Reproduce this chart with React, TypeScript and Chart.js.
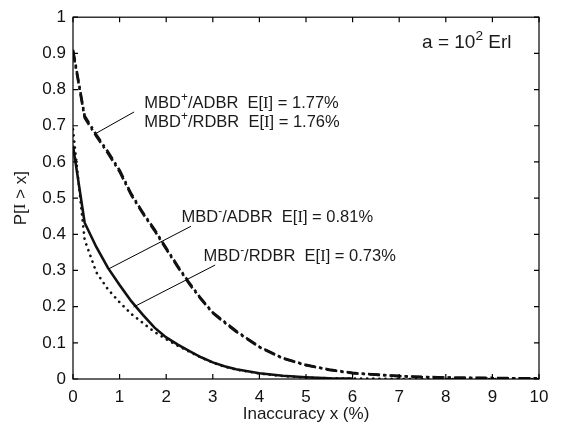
import React, { useEffect, useRef } from 'react';
import { Chart, registerables } from 'chart.js';
Chart.register(...registerables);

const xValues = [0, 0.25, 0.5, 0.75, 1, 1.25, 1.5, 1.75, 2, 2.25, 2.5, 2.75, 3, 3.25, 3.5, 4, 4.5, 5, 5.5, 6, 6.5, 7, 7.5, 8, 8.5, 9, 9.5, 10];
const plusAdbr = [0.91, 0.727, 0.675, 0.628, 0.577, 0.512, 0.46, 0.413, 0.362, 0.312, 0.265, 0.222, 0.184, 0.158, 0.133, 0.089, 0.058, 0.039, 0.026, 0.017, 0.012, 0.008, 0.006, 0.004, 0.003, 0.003, 0.002, 0.002];
const plusRdbr = [0.905, 0.722, 0.671, 0.624, 0.573, 0.508, 0.457, 0.41, 0.359, 0.309, 0.262, 0.22, 0.182, 0.156, 0.131, 0.088, 0.057, 0.038, 0.025, 0.016, 0.012, 0.008, 0.005, 0.004, 0.003, 0.002, 0.002, 0.002];
const minusAdbr = [0.645, 0.432, 0.365, 0.307, 0.26, 0.215, 0.177, 0.142, 0.115, 0.095, 0.077, 0.06, 0.046, 0.035, 0.027, 0.016, 0.009, 0.005, 0.002, 0.001, null, null, null, null, null, null, null, null];
const minusRdbr = [0.69, 0.385, 0.295, 0.248, 0.212, 0.18, 0.155, 0.13, 0.11, 0.092, 0.075, 0.059, 0.045, 0.034, 0.026, 0.015, 0.008, 0.004, 0.002, 0.001, 0.001, 0, 0, 0, 0, 0, 0, 0];

const xTicks = [0, 1, 2, 3, 4, 5, 6, 7, 8, 9, 10];
const yTicks = [0, 0.1, 0.2, 0.3, 0.4, 0.5, 0.6, 0.7, 0.8, 0.9, 1];

const SANS = '"Liberation Sans", Arial, Helvetica, sans-serif';
const SERIF = '"Liberation Serif", "Times New Roman", serif';

type Seg = { t: string; sup?: boolean; serif?: boolean };

const plusLabels: Seg[][] = [
  [{ t: 'MBD' }, { t: '+', sup: true }, { t: '/ADBR  E[' }, { t: 'I', serif: true }, { t: '] = 1.77%' }],
  [{ t: 'MBD' }, { t: '+', sup: true }, { t: '/RDBR  E[' }, { t: 'I', serif: true }, { t: '] = 1.76%' }],
];
const minusAdbrLabel: Seg[] = [{ t: 'MBD' }, { t: '-', sup: true }, { t: '/ADBR  E[' }, { t: 'I', serif: true }, { t: '] = 0.81%' }];
const minusRdbrLabel: Seg[] = [{ t: 'MBD' }, { t: '-', sup: true }, { t: '/RDBR  E[' }, { t: 'I', serif: true }, { t: '] = 0.73%' }];
const erlLabel: Seg[] = [{ t: 'a = 10' }, { t: '2', sup: true }, { t: ' Erl' }];
const yTitle: Seg[] = [{ t: 'P[' }, { t: 'I', serif: true }, { t: ' > x]' }];
const xTitle = 'Inaccuracy x (%)';

// annotation anchors in data units: [x, y]
const plusTextAt = [1.53, 0.749];
const minusAdbrTextAt = [2.33, 0.433];
const minusRdbrTextAt = [2.8, 0.326];
const erlTextAt = [7.49, 0.916];
const plusLeader = [[1.31, 0.738], [0.48, 0.678]];
const minusAdbrLeader = [[2.53, 0.422], [0.76, 0.304]];
const minusRdbrLeader = [[3.05, 0.315], [1.3, 0.199]];

function drawRich(ctx: CanvasRenderingContext2D, segs: Seg[], x: number, y: number, size: number, measureOnly = false) {
  let cx = x;
  for (const s of segs) {
    const fsz = s.sup ? size * 0.72 : size;
    ctx.font = `${fsz}px ${s.serif ? SERIF : SANS}`;
    const dy = s.sup ? -size * 0.42 : 0;
    if (!measureOnly) ctx.fillText(s.t, cx, y + dy);
    cx += ctx.measureText(s.t).width;
  }
  return cx - x;
}

const framePlugin = {
  id: 'framePlugin',
  afterDatasetsDraw(chart: any) {
    const { ctx, chartArea: a, scales } = chart;
    const xs = scales.x, ys = scales.y;
    const px = (v: number) => xs.getPixelForValue(v);
    const py = (v: number) => ys.getPixelForValue(v);
    ctx.save();
    ctx.strokeStyle = '#000';
    ctx.lineWidth = 1.2;
    ctx.strokeRect(a.left, a.top, a.right - a.left, a.bottom - a.top);
    ctx.beginPath();
    const tl = 5;
    for (const t of xTicks) {
      const x = px(t);
      ctx.moveTo(x, a.bottom); ctx.lineTo(x, a.bottom - tl);
      ctx.moveTo(x, a.top); ctx.lineTo(x, a.top + tl);
    }
    for (const t of yTicks) {
      const y = py(t);
      ctx.moveTo(a.left, y); ctx.lineTo(a.left + tl, y);
      ctx.moveTo(a.right, y); ctx.lineTo(a.right - tl, y);
    }
    ctx.stroke();

    // leader lines
    ctx.lineWidth = 1;
    ctx.beginPath();
    for (const L of [plusLeader, minusAdbrLeader, minusRdbrLeader]) {
      ctx.moveTo(px(L[0][0]), py(L[0][1]));
      ctx.lineTo(px(L[1][0]), py(L[1][1]));
    }
    ctx.stroke();

    // annotation texts
    ctx.fillStyle = '#1a1a1a';
    ctx.textBaseline = 'alphabetic';
    ctx.textAlign = 'left';
    const fs = 16.5;
    drawRich(ctx, plusLabels[0], px(plusTextAt[0]), py(plusTextAt[1]), fs);
    drawRich(ctx, plusLabels[1], px(plusTextAt[0]), py(plusTextAt[1]) + 19, fs);
    drawRich(ctx, minusAdbrLabel, px(minusAdbrTextAt[0]), py(minusAdbrTextAt[1]), fs);
    drawRich(ctx, minusRdbrLabel, px(minusRdbrTextAt[0]), py(minusRdbrTextAt[1]), fs);
    drawRich(ctx, erlLabel, px(erlTextAt[0]), py(erlTextAt[1]), 19);

    // axis titles
    ctx.font = `17px ${SANS}`;
    ctx.textAlign = 'center';
    ctx.textBaseline = 'middle';
    ctx.fillText(xTitle, (a.left + a.right) / 2, 414);

    ctx.save();
    ctx.translate(21, (a.top + a.bottom) / 2);
    ctx.rotate(-Math.PI / 2);
    ctx.textAlign = 'left';
    const w = drawRich(ctx, yTitle, 0, 0, 17, true);
    drawRich(ctx, yTitle, -w / 2, 0, 17);
    ctx.restore();
    ctx.restore();
  },
};

export default function App() {
  const ref = useRef<HTMLCanvasElement>(null);
  useEffect(() => {
    if (!ref.current) return;
    const pts = (arr: (number | null)[]) => xValues.map((x, i) => ({ x, y: arr[i] }));
    const chart = new Chart(ref.current, {
      type: 'line',
      data: {
        datasets: [
          { label: 'MBD+/RDBR', data: pts(plusRdbr) as any, borderColor: '#111', borderWidth: 2.6, borderDash: [11, 4, 2.5, 4], pointRadius: 0, tension: 0, fill: false },
          { label: 'MBD+/ADBR', data: pts(plusAdbr) as any, borderColor: '#111', borderWidth: 2.6, borderDash: [11, 4, 2.5, 4], pointRadius: 0, tension: 0, fill: false },
          { label: 'MBD-/RDBR', data: pts(minusRdbr) as any, borderColor: '#111', borderWidth: 2.6, borderDash: [0.1, 6], borderCapStyle: 'round', pointRadius: 0, tension: 0, fill: false },
          { label: 'MBD-/ADBR', data: pts(minusAdbr) as any, borderColor: '#111', borderWidth: 2.6, pointRadius: 0, tension: 0, fill: false, spanGaps: false },
        ],
      },
      options: {
        responsive: false,
        animation: false,
        layout: { padding: { left: 0, right: 28, top: 12, bottom: 0 } },
        plugins: { legend: { display: false }, tooltip: { enabled: false } },
        scales: {
          x: {
            type: 'linear', min: 0, max: 10,
            afterFit: (s: any) => { s.height = 51; },
            afterBuildTicks: (s: any) => { s.ticks = xTicks.map((v) => ({ value: v })); },
            grid: { display: false, drawTicks: false },
            border: { display: false },
            ticks: { color: '#111', font: { size: 17, family: SANS }, padding: 8, maxRotation: 0, callback: (v: any) => String(v) },
          },
          y: {
            type: 'linear', min: 0, max: 1,
            afterFit: (s: any) => { s.width = 73; },
            afterBuildTicks: (s: any) => { s.ticks = yTicks.map((v) => ({ value: v })); },
            grid: { display: false, drawTicks: false },
            border: { display: false },
            ticks: { color: '#111', font: { size: 17, family: SANS }, padding: 7, callback: (v: any) => String(Number(Number(v).toFixed(1))) },
          },
        },
      } as any,
      plugins: [framePlugin],
    });
    return () => chart.destroy();
  }, []);
  return (
    <div style={{ position: 'fixed', left: 0, top: 0, width: 567, height: 430, background: '#fff' }}>
      <canvas ref={ref} width={567} height={430} style={{ width: 567, height: 430 }} />
    </div>
  );
}
